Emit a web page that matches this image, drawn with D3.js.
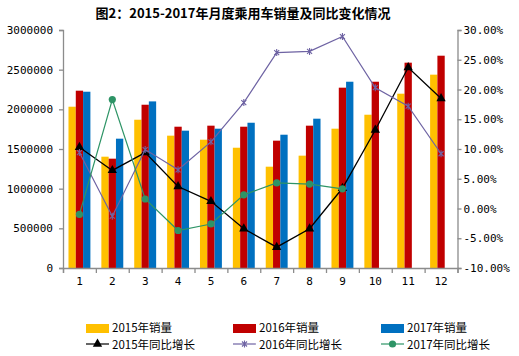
<!DOCTYPE html>
<html><head><meta charset="utf-8">
<script src="https://cdn.jsdelivr.net/npm/d3@7"></script>
<style>body{margin:0;background:#fff}svg{display:block}</style>
</head><body><div id="chart"></div>
<script>
const months = ["1","2","3","4","5","6","7","8","9","10","11","12"];
const sales2015 = [2033000,1403000,1869000,1668000,1617000,1516000,1277000,1416000,1756000,1932000,2197000,2437000];
const sales2016 = [2235000,1378000,2058000,1781000,1794000,1781000,1605000,1794000,2273000,2348000,2588000,2676000];
const sales2017 = [2222000,1630000,2100000,1731000,1756000,1831000,1680000,1882000,2348000,null,null,null];
const growth2015 = [10.3,6.4,9.4,3.7,1.2,-3.4,-6.5,-3.4,3.4,13.2,23.7,18.5];
const growth2016 = [9.4,-1.3,9.9,6.5,11.2,17.8,26.2,26.4,28.9,20.3,17.2,9.2];
const growth2017 = [-1.0,18.3,1.6,-3.7,-2.6,2.3,4.3,4.1,3.3,null,null,null];
const leftTicks = [0,500000,1000000,1500000,2000000,2500000,3000000];
const rightTicks = [-10,-5,0,5,10,15,20,25,30];
const title = "图2：2015-2017年月度乘用车销量及同比变化情况";
const barNames = ["2015年销量","2016年销量","2017年销量"];
const lineNames = ["2015年同比增长","2016年同比增长","2017年同比增长"];

const W = 519, H = 356;
const L = 63, R = 457.5, T = 30, B = 268;
const barColors = ["#FFC000","#C00000","#0070C0"];
const lineColors = ["#000000","#6E63A3","#2E9466"];

const svg = d3.select("#chart").append("svg").attr("width", W).attr("height", H);

svg.append("text").attr("x", 243).attr("y", 18).attr("text-anchor","middle")
  .attr("font-family","'Noto Sans CJK SC'").attr("font-weight","bold").attr("font-size",13)
  .text(title);

const x = d3.scaleBand().domain(months).range([L, R]).paddingInner(1/3).paddingOuter(1/6);
const xs = d3.scaleBand().domain([0,1,2]).range([0, x.bandwidth()]);
const y = d3.scaleLinear().domain([0,3000000]).range([B, T]);
const y2 = d3.scaleLinear().domain([-10,30]).range([B, T]);
const xb = d3.scaleLinear().domain([0,12]).range([L, R]);

// bars
const series = [sales2015, sales2016, sales2017];
series.forEach((s, k) => {
  svg.append("g").selectAll("rect").data(months.map((m,i)=>({m, v:s[i]})).filter(d=>d.v!=null))
    .join("rect")
    .attr("x", d => x(d.m) + xs(k))
    .attr("y", d => y(d.v))
    .attr("width", xs.bandwidth())
    .attr("height", d => B - y(d.v))
    .attr("fill", barColors[k]);
});

const axisFont = "'DejaVu Sans Mono', monospace";
const gl = svg.append("g").attr("transform", `translate(${L},0)`)
  .call(d3.axisLeft(y).tickValues(leftTicks).tickFormat(d3.format("d")).tickSize(4).tickPadding(6));
const gr = svg.append("g").attr("transform", `translate(${R},0)`)
  .call(d3.axisRight(y2).tickValues(rightTicks).tickFormat(d => d.toFixed(2) + "%").tickSize(4).tickPadding(2));
const gx = svg.append("g").attr("transform", `translate(0,${B})`)
  .call(d3.axisBottom(xb).tickValues(d3.range(0,13)).tickFormat("").tickSize(5));
const gxl = svg.append("g").attr("transform", `translate(0,${B})`)
  .call(d3.axisBottom(x).tickSize(0).tickPadding(9));
gxl.select(".domain").remove();
[gl, gr, gx, gxl].forEach(g => {
  g.selectAll(".domain").attr("stroke","#8c8c8c").attr("stroke-width",1.3);
  g.selectAll(".tick line").attr("stroke","#8c8c8c").attr("stroke-width",1.3);
  g.selectAll("text").attr("font-family", axisFont).attr("font-size",11).attr("fill","#000");
});

// lines
const lines = [growth2015, growth2016, growth2017];
const cx = m => x(m) + x.bandwidth()/2;
const starPath = s => `M${-s},${-s}L${s},${s}M${-s},${s}L${s},${-s}M0,${-s-1}L0,${s+1}`;
function marker(g, k, px, py) {
  if (k === 0) {
    g.append("path").attr("d", d3.symbol(d3.symbolTriangle, 38)()).attr("transform", `translate(${px},${py})`).attr("fill","#000");
  } else if (k === 1) {
    g.append("path").attr("d", starPath(2.5)).attr("transform", `translate(${px},${py})`).attr("stroke", lineColors[1]).attr("stroke-width",1.1).attr("fill","none");
  } else {
    g.append("circle").attr("cx", px).attr("cy", py).attr("r", 3.6).attr("fill", lineColors[2]);
  }
}
lines.forEach((s, k) => {
  const pts = months.map((m,i)=>({m, v:s[i]})).filter(d=>d.v!=null);
  const g = svg.append("g");
  g.append("path").datum(pts)
    .attr("d", d3.line().x(d=>cx(d.m)).y(d=>y2(d.v)))
    .attr("fill","none").attr("stroke", lineColors[k]).attr("stroke-width", k===0?1.3:1.2);
  pts.forEach(d => marker(g, k, cx(d.m), y2(d.v)));
});

// legend
const legX = [86, 233, 381];
const legFont = "'Noto Sans CJK SC'";
const legFs = 11.5;
barNames.forEach((n, k) => {
  svg.append("rect").attr("x", legX[k]).attr("y", 324).attr("width", 23).attr("height", 9).attr("fill", barColors[k]);
  svg.append("text").attr("x", legX[k] + 26).attr("y", 332).attr("font-family", legFont).attr("font-size",legFs).text(n);
});
lineNames.forEach((n, k) => {
  const g = svg.append("g");
  g.append("line").attr("x1", legX[k]).attr("x2", legX[k]+23).attr("y1", 344).attr("y2", 344).attr("stroke", lineColors[k]).attr("stroke-width",1.2);
  marker(g, k, legX[k]+11.5, 344);
  svg.append("text").attr("x", legX[k] + 26).attr("y", 349).attr("font-family", legFont).attr("font-size",legFs).text(n);
});
</script></body></html>
